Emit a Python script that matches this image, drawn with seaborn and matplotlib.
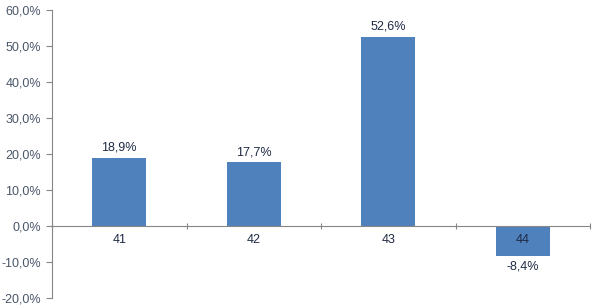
import matplotlib
matplotlib.use("Agg")
import matplotlib.pyplot as plt
import seaborn as sns
import pandas as pd
import numpy as np
from matplotlib.ticker import FixedLocator, FuncFormatter

categories = ["41", "42", "43", "44"]
values = [18.9, 17.7, 52.6, -8.4]
yticks = [-20, -10, 0, 10, 20, 30, 40, 50, 60]

sns.set_theme(style="white")
plt.rcParams['font.family'] = ['Liberation Sans', 'DejaVu Sans']

df = pd.DataFrame({"cat": categories, "val": values})

fig = plt.figure(figsize=(6.0, 3.08), dpi=100)
ax = fig.add_axes([52/600, 10/308, 538/600, 288/308])
sns.barplot(data=df, x="cat", y="val", order=categories, color="#4F81BD",
            saturation=1, width=0.4, linewidth=0, ax=ax)
ax.set_axisbelow(False)

ax.set_xlim(-0.5, 3.5)
ax.set_ylim(-20, 60)
ax.set_xlabel("")
ax.set_ylabel("")

axis_col = "#868686"
ax.spines['top'].set_visible(False)
ax.spines['right'].set_visible(False)
ax.spines['left'].set_color(axis_col)
ax.spines['bottom'].set_color(axis_col)
ax.spines['bottom'].set_position(('data', 0))
ax.spines['left'].set_linewidth(0.8)
ax.spines['bottom'].set_linewidth(0.8)

ax.yaxis.set_major_locator(FixedLocator(yticks))
ax.yaxis.set_major_formatter(FuncFormatter(lambda v, p: f"{v:.1f}%".replace(".", ",")))
ax.tick_params(axis='y', direction='out', length=4, color=axis_col, width=0.8,
               labelsize=9, labelcolor="#4A5668", left=True, pad=4)

ax.set_xticks(range(len(categories)))
ax.set_xticklabels(categories)
ax.set_xticks(np.arange(-0.5, len(categories), 1.0), minor=True)
ax.tick_params(axis='x', which='major', length=0, labelsize=9, labelcolor="#1F2A44", pad=6)
ax.tick_params(axis='x', which='minor', direction='inout', length=5, color=axis_col, width=0.8, bottom=True)

for i, v in enumerate(values):
    lab = f"{v:.1f}%".replace(".", ",")
    if v >= 0:
        ax.annotate(lab, (i, v), xytext=(0, 3), textcoords="offset points",
                    ha="center", va="bottom", fontsize=9, color="#1F2A44")
    else:
        ax.annotate(lab, (i, v), xytext=(0, -3), textcoords="offset points",
                    ha="center", va="top", fontsize=9, color="#1F2A44")

fig.savefig("out.png", dpi=100)
